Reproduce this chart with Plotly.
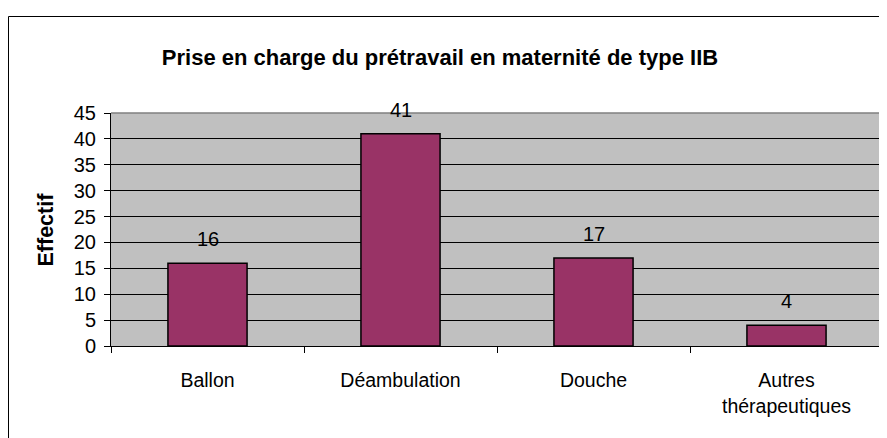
import plotly.graph_objects as go

categories = ["Ballon", "Déambulation", "Douche", "Autres<br>thérapeutiques"]
values = [16, 41, 17, 4]
y_ticks = [0, 5, 10, 15, 20, 25, 30, 35, 40, 45]

title_text = "Prise en charge du prétravail en maternité de type IIB"
y_title = "Effectif"

# page body has an 8px margin: figure origin sits at (8, 8) in the window
OX, OY = 8, 8
W, H = 887, 438
# target plot area in window pixels
PL, PR, PT, PB = 111, 883, 113, 346
L = PL - OX
T = PT - OY
R = W - (PR - OX)
B = H - (PB - OY)
pw, ph = W - L - R, H - T - B

def px_x(p):  # window pixel -> paper x
    return (p - PL) / pw

def px_y(p):  # window pixel -> paper y
    return (PB - p) / ph

fig = go.Figure()
fig.add_trace(go.Bar(
    x=categories, y=values, width=0.41,
    marker=dict(color="#993366", line=dict(color="black", width=1.5)),
    hoverinfo="skip",
))

font = "Liberation Sans, Arial, sans-serif"

for c, v in zip(categories, values):
    fig.add_annotation(x=c, y=v, text=str(v), showarrow=False, yshift=24,
                       yanchor="middle", font=dict(family=font, size=20, color="black"))

fig.add_annotation(xref="paper", yref="paper", x=px_x(45), y=0.5, text="<b>" + y_title + "</b>",
                   textangle=-90, showarrow=False, xanchor="center", yanchor="middle",
                   font=dict(family=font, size=21.5, color="black"))

# plot area border (top, right) in gray
fig.add_shape(type="path", xref="paper", yref="paper",
              path="M 0,1 L 1,1 L 1,0", line=dict(color="#808080", width=1.5), layer="above")
# chart outer border (left + top visible)
fig.add_shape(type="path", xref="paper", yref="paper",
              path=f"M {px_x(8.5)},{px_y(470)} L {px_x(8.5)},{px_y(16.5)} L {px_x(920)},{px_y(16.5)}",
              line=dict(color="black", width=1), layer="above")

fig.update_layout(
    width=W, height=H,
    margin=dict(l=L, r=R, t=T, b=B),
    paper_bgcolor="white", plot_bgcolor="#C0C0C0",
    showlegend=False,
    title=dict(text="<b>" + title_text + "</b>", x=(440 - OX) / W, xanchor="center",
               y=1 - (57 - OY) / H, yanchor="middle", font=dict(family=font, size=22, color="black")),
    font=dict(family=font, size=20, color="black"),
)
fig.update_xaxes(type="category", tickson="boundaries", ticks="outside", ticklen=6, tickcolor="black",
                 showline=True, linecolor="black", linewidth=1, showgrid=False,
                 tickfont=dict(family=font, size=19.5, color="black"), ticklabelstandoff=17)
fig.update_yaxes(range=[0, 45], tickvals=y_ticks, ticks="outside", ticklen=6, tickcolor="black",
                 showline=True, linecolor="black", linewidth=1, showgrid=True, gridcolor="black",
                 gridwidth=1, zeroline=False, tickfont=dict(family=font, size=20, color="black"),
                 ticklabelstandoff=4)

fig.write_html("out.html")
